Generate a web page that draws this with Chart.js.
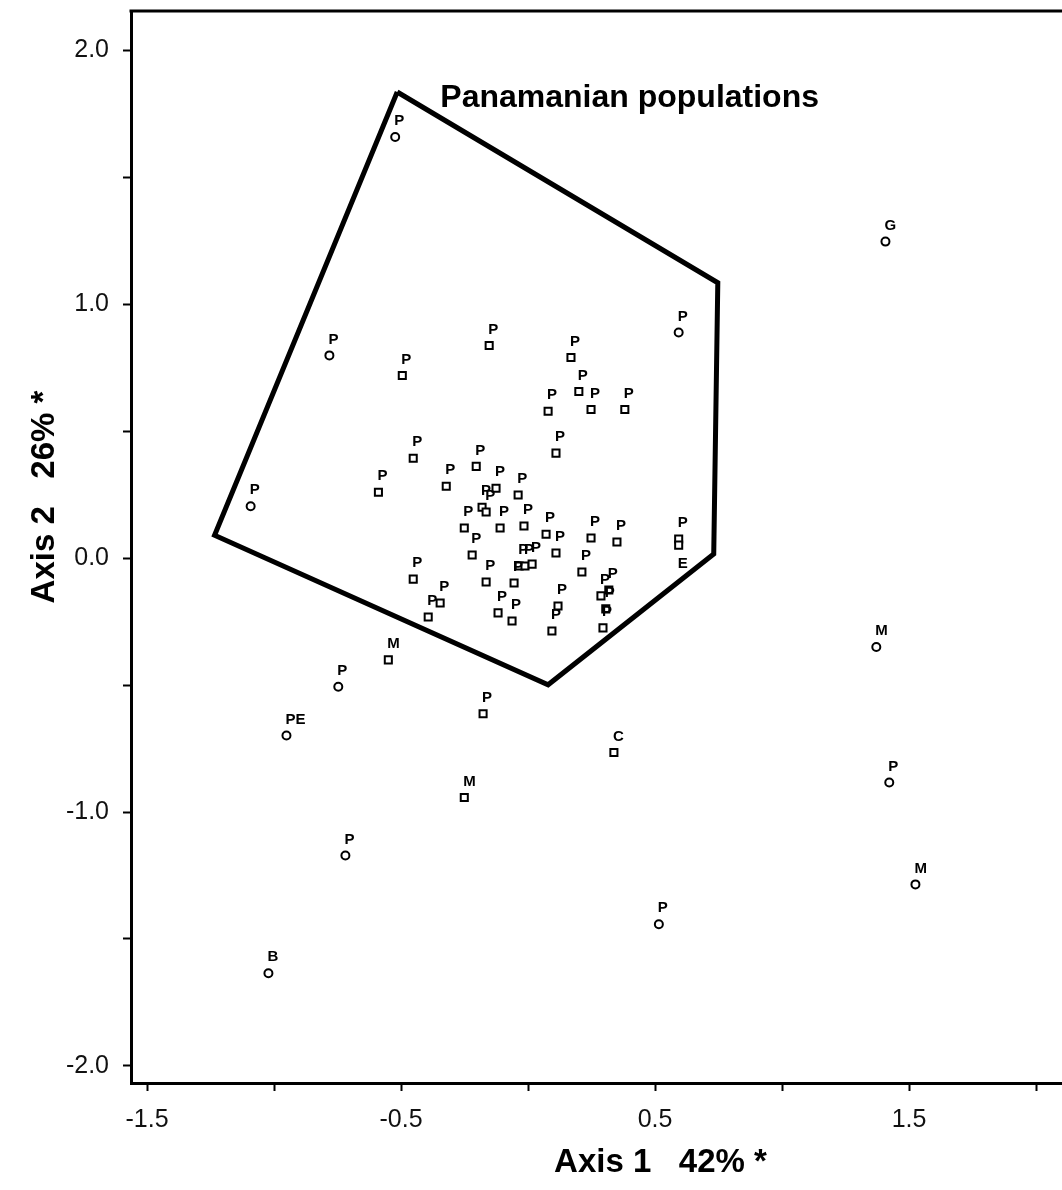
<!DOCTYPE html>
<html>
<head>
<meta charset="utf-8">
<script src="https://cdn.jsdelivr.net/npm/chart.js@4.4.0/dist/chart.umd.min.js"></script>
<style>
    html, body { margin: 0; padding: 0; background: #fff; }
</style>
</head>
<body>
<canvas id="pca" width="1062" height="1190"></canvas>
<script>
'use strict';

// Populations plotted with square symbols
const sqAxis1 = [-0.495, -0.153, 0.169, 0.200, 0.079, 0.248, 0.381, 0.110, -0.452, -0.589,
    -0.204, -0.322, -0.126, -0.039, -0.181, -0.165, -0.251, -0.110, -0.016, 0.071,
    0.110, -0.220, 0.248, 0.350, 0.593, 0.593, 0.212, -0.035, -0.012, 0.016,
    -0.452, -0.165, -0.055, 0.287, 0.318, 0.306, 0.295, 0.118, 0.094, -0.346,
    -0.393, -0.118, -0.063, -0.550, -0.177, 0.338, -0.251];
const sqAxis2 = [0.719, 0.837, 0.790, 0.656, 0.578, 0.585, 0.585, 0.413, 0.393, 0.259,
    0.361, 0.283, 0.275, 0.248, 0.200, 0.181, 0.118, 0.118, 0.126, 0.094,
    0.020, 0.012, 0.079, 0.063, 0.075, 0.051, -0.055, -0.031, -0.031, -0.024,
    -0.083, -0.094, -0.098, -0.149, -0.126, -0.200, -0.275, -0.189, -0.287, -0.177,
    -0.232, -0.216, -0.248, -0.401, -0.613, -0.766, -0.943];
const sqSites = ['P', 'P', 'P', 'P', 'P', 'P', 'P', 'P', 'P', 'P',
    'P', 'P', 'P', 'P', 'P', 'P', 'P', 'P', 'P', 'P',
    'P', 'P', 'P', 'P', 'P', 'E', 'P', 'P', 'P', 'P',
    'P', 'P', 'P', 'P', 'P', 'P', 'P', 'P', 'P', 'P',
    'P', 'P', 'P', 'M', 'P', 'C', 'M'];

// Populations plotted with round symbols
const rdAxis1 = [-0.523, -0.782, -1.092, 0.593, -0.747, -0.951, -0.719, 0.515, -1.022, 1.407, 1.371, 1.422, 1.525];
const rdAxis2 = [1.658, 0.798, 0.204, 0.888, -0.507, -0.699, -1.171, -1.442, -1.635, 1.246, -0.350, -0.884, -1.285];
const rdSites = ['P', 'P', 'P', 'P', 'P', 'PE', 'P', 'P', 'B', 'G', 'M', 'P', 'M'];

// Outline around the Panamanian populations
const hullAxis1 = [-0.515, 0.747, 0.731, 0.079, -1.234, -0.515];
const hullAxis2 = [1.835, 1.084, 0.016, -0.499, 0.090, 1.835];

const xTicks = [-1.5, -1.0, -0.5, 0, 0.5, 1.0, 1.5, 2.0];
const xLabelled = [-1.5, -0.5, 0.5, 1.5];
const yTicks = [-2.0, -1.5, -1.0, -0.5, 0, 0.5, 1.0, 1.5, 2.0];
const yLabelled = [-2.0, -1.0, 0, 1.0, 2.0];

const xTitle = 'Axis 1   42% *';
const yTitle = 'Axis 2   26% *';
const groupTitle = 'Panamanian populations';
const groupTitleAt = [0.40, 1.81];
const labelBelow = ['E'];

const toPoints = (xs, ys) => xs.map((x, i) => ({ x, y: ys[i] }));

const pointLabels = {
    id: 'pointLabels',
    afterDatasetsDraw(chart) {
        const ctx = chart.ctx;
        ctx.save();
        ctx.fillStyle = '#000';
        ctx.font = 'bold 15px "Liberation Sans", Arial, sans-serif';
        ctx.textAlign = 'left';
        ctx.textBaseline = 'middle';
        chart.data.datasets.forEach((ds, di) => {
            if ( ! ds.sites ) {
                return;
            }
            chart.getDatasetMeta(di).data.forEach((pt, i) => {
                const txt = ds.sites[i];
                const dy = labelBelow.includes(txt) ? 19 : -16;
                ctx.fillText(txt, pt.x - 1, pt.y + dy);
            });
        });
        ctx.restore();
    }
};

const frameAndTitles = {
    id: 'frameAndTitles',
    afterDraw(chart) {
        const { ctx, chartArea: a, scales } = chart;
        ctx.save();

        // top frame line
        ctx.strokeStyle = '#000';
        ctx.lineWidth = 3;
        ctx.beginPath();
        ctx.moveTo(a.left - 1.5, a.top);
        ctx.lineTo(a.right, a.top);
        ctx.stroke();

        ctx.fillStyle = '#000';
        ctx.textAlign = 'center';
        ctx.textBaseline = 'middle';
        ctx.font = 'bold 33px "Liberation Sans", Arial, sans-serif';
        ctx.fillText(xTitle, (a.left + a.right) / 2 + 64, a.bottom + 80);

        ctx.save();
        ctx.translate(a.left - 86, (a.top + a.bottom) / 2 - 50);
        ctx.rotate(-Math.PI / 2);
        ctx.fillText(yTitle, 0, 0);
        ctx.restore();

        ctx.font = 'bold 32px "Liberation Sans", Arial, sans-serif';
        ctx.fillText(groupTitle,
            scales.x.getPixelForValue(groupTitleAt[0]),
            scales.y.getPixelForValue(groupTitleAt[1]));
        ctx.restore();
    }
};

const tickFont = { family: '"Liberation Sans", Arial, sans-serif', size: 25 };

const config = {
    type: 'scatter',
    data: {
        datasets: [
            {
                type: 'line',
                data: toPoints(hullAxis1, hullAxis2),
                borderColor: '#000',
                borderWidth: 5,
                borderJoinStyle: 'miter',
                pointRadius: 0,
                tension: 0,
                fill: false
            },
            {
                data: toPoints(sqAxis1, sqAxis2),
                sites: sqSites,
                pointStyle: 'rect',
                pointRadius: 5,
                borderWidth: 2,
                borderColor: '#000',
                backgroundColor: '#fff'
            },
            {
                data: toPoints(rdAxis1, rdAxis2),
                sites: rdSites,
                pointStyle: 'circle',
                pointRadius: 4,
                borderWidth: 2,
                borderColor: '#000',
                backgroundColor: '#fff'
            }
        ]
    },
    options: {
        responsive: false,
        animation: false,
        layout: {
            autoPadding: false,
            padding: { top: 11, right: 0, bottom: 0, left: 0 }
        },
        plugins: {
            legend: { display: false },
            tooltip: { enabled: false }
        },
        scales: {
            x: {
                type: 'linear',
                min: -1.563,
                max: 2.102,
                afterBuildTicks: (s) => { s.ticks = xTicks.map(v => ({ value: v })); },
                afterFit: (s) => {
                    s.height = 107;
                    s.paddingLeft = 0;
                    s.paddingRight = 0;
                },
                border: { display: true, color: '#000', width: 3 },
                grid: {
                    drawOnChartArea: false,
                    drawTicks: true,
                    tickLength: 8,
                    tickWidth: 2,
                    tickColor: '#000'
                },
                ticks: {
                    autoSkip: false,
                    maxRotation: 0,
                    padding: 14,
                    color: '#111',
                    font: tickFont,
                    callback: (v) => xLabelled.includes(v) ? v.toFixed(1) : ''
                }
            },
            y: {
                type: 'linear',
                min: -2.067,
                max: 2.154,
                afterBuildTicks: (s) => { s.ticks = yTicks.map(v => ({ value: v })); },
                afterFit: (s) => {
                    s.width = 131;
                    s.paddingTop = 0;
                    s.paddingBottom = 0;
                },
                border: { display: true, color: '#000', width: 3 },
                grid: {
                    drawOnChartArea: false,
                    drawTicks: true,
                    tickLength: 8,
                    tickWidth: 2,
                    tickColor: '#000'
                },
                ticks: {
                    autoSkip: false,
                    padding: 14,
                    color: '#111',
                    font: tickFont,
                    callback: (v) => yLabelled.includes(v) ? v.toFixed(1) : ''
                }
            }
        }
    },
    plugins: [pointLabels, frameAndTitles]
};

new Chart(document.getElementById('pca'), config);
</script>
</body>
</html>
